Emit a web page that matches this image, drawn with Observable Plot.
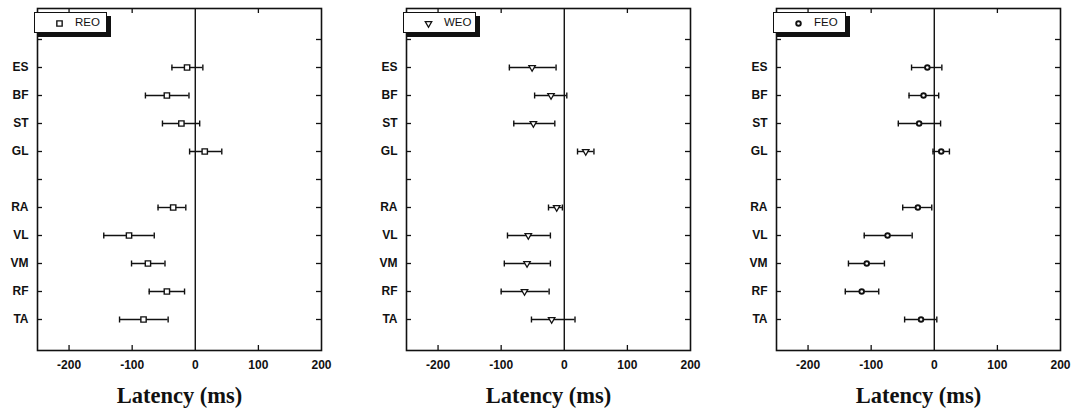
<!DOCTYPE html>
<html>
<head>
<meta charset="utf-8">
<script src="https://cdn.jsdelivr.net/npm/d3@7"></script>
<script src="https://cdn.jsdelivr.net/npm/@observablehq/plot@0.6"></script>
<style>
  body { margin: 0; background: #fff; width: 1079px; height: 416px; overflow: hidden; position: relative; }
  .panel { position: absolute; top: 0; }
  .legend { position: absolute; top: 12px; left: 34px; width: 71px; height: 19px; border: 1px solid #111; background: #fff;
            box-shadow: 4px 4px 0 #111; font-family: "Liberation Sans", Arial, sans-serif; font-size: 11.5px; color: #111; }
  .legend svg { position: absolute; left: 18px; top: 4px; }
  .legend span { position: absolute; left: 40px; top: 3px; }
</style>
</head>
<body>
<script>
// categories (slots include two unlabeled tick positions)
const slots = ["_a", "ES", "BF", "ST", "GL", "_b", "RA", "VL", "VM", "RF", "TA"];
const muscles = ["ES", "BF", "ST", "GL", "RA", "VL", "VM", "RF", "TA"];
const xTickLabels = [-200, -100, 0, 100, 200];
const xInnerTicks = [-200, -100, 100];
const xLabel = "Latency (ms)";

// REO
const reoMean = [-13, -45, -22, 15, -35, -105, -75, -45, -82];
const reoLow  = [-37, -79, -52, -9, -59, -145, -101, -73, -120];
const reoHigh = [12, -10, 7, 42, -15, -65, -48, -17, -43];
// WEO
const weoMean = [-51, -21, -49, 34, -12, -57, -59, -63, -20];
const weoLow  = [-87, -47, -80, 21, -25, -90, -95, -100, -52];
const weoHigh = [-13, 4, -15, 47, -3, -22, -22, -24, 17];
// FEO
const feoMean = [-11, -17, -24, 11, -26, -74, -107, -115, -21];
const feoLow  = [-36, -40, -57, -2, -50, -111, -136, -141, -47];
const feoHigh = [12, 7, 10, 24, -4, -35, -79, -88, 4];

const panels = [
  {name: "REO", mean: reoMean, low: reoLow, high: reoHigh, symbol: "square", rotate: 0, r: 3.0, sw: 1.4, left: 0},
  {name: "WEO", mean: weoMean, low: weoLow, high: weoHigh, symbol: "triangle", rotate: 180, r: 2.4, sw: 1.3, left: 369},
  {name: "FEO", mean: feoMean, low: feoLow, high: feoHigh, symbol: "circle", rotate: 0, r: 2.3, sw: 1.9, left: 739}
];

// vertical cap symbol for error bar ends
const capSymbol = {draw(context) { context.moveTo(0, -3); context.lineTo(0, 3); }};

const W = 340, ML = 37, MR = 19, H = 416, MT = 8, MB = 66;
const PW = W - ML - MR, PH = H - MT - MB;

for (const p of panels) {
  const data = muscles.map((m, i) => ({m, mean: p.mean[i], lo: p.low[i], hi: p.high[i]}));
  const chart = Plot.plot({
    width: W, height: H,
    marginLeft: ML, marginRight: MR, marginTop: MT, marginBottom: MB,
    x: {domain: [-250, 200]},
    y: {type: "point", domain: slots, padding: 1},
    style: {fontFamily: "'Liberation Sans', Arial, sans-serif", background: "transparent", color: "#111"},
    marks: [
      Plot.ruleX([0], {stroke: "#111", strokeWidth: 1.4}),
      Plot.ruleY(slots, {y: d => d, stroke: "#111", strokeWidth: 1.3, insetRight: PW - 5}),
      Plot.ruleY(slots, {y: d => d, stroke: "#111", strokeWidth: 1.3, insetLeft: PW - 5}),
      Plot.ruleX(xInnerTicks, {x: d => d, stroke: "#111", strokeWidth: 1.3, insetBottom: PH - 5}),
      Plot.ruleX(xInnerTicks, {x: d => d, stroke: "#111", strokeWidth: 1.3, insetTop: PH - 5}),
      Plot.axisX({ticks: xTickLabels, tickSize: 0, tickPadding: 10, fontWeight: "bold", fontSize: 12,
                  tickFormat: d => String(d), label: null}),
      Plot.axisY({ticks: muscles, tickSize: 0, tickPadding: 9, fontWeight: "bold", fontSize: 12, label: null}),
      Plot.ruleY(data, {y: "m", x1: "lo", x2: "hi", stroke: "#111", strokeWidth: 1.4}),
      Plot.dot(data, {x: "lo", y: "m", symbol: capSymbol, stroke: "#111", strokeWidth: 1.4, fill: "none"}),
      Plot.dot(data, {x: "hi", y: "m", symbol: capSymbol, stroke: "#111", strokeWidth: 1.4, fill: "none"}),
      Plot.dot(data, {x: "mean", y: "m", symbol: p.symbol, rotate: p.rotate, r: p.r, stroke: "#111",
                      strokeWidth: p.sw, fill: "#fff"}),
      Plot.frame({stroke: "#111", strokeWidth: 1.6}),
      Plot.text([xLabel], {frameAnchor: "bottom", dy: 52, text: d => d, fontFamily: "'Liberation Serif', 'Times New Roman', serif",
                           fontWeight: "bold", fontSize: 22.5, fill: "#111"})
    ]
  });
  const div = document.createElement("div");
  div.className = "panel";
  div.style.left = p.left + "px";
  div.appendChild(chart);

  // legend
  const lg = document.createElement("div");
  lg.className = "legend";
  const sym = Plot.plot({
    width: 12, height: 12, margin: 0,
    x: {domain: [0, 1], axis: null}, y: {domain: [0, 1], axis: null},
    style: {background: "transparent"},
    marks: [Plot.dot([0.5], {x: 0.5, y: 0.5, symbol: p.symbol, rotate: p.rotate, r: p.r, stroke: "#111", strokeWidth: p.sw, fill: "#fff"})]
  });
  lg.appendChild(sym);
  const sp = document.createElement("span");
  sp.textContent = p.name;
  lg.appendChild(sp);
  div.appendChild(lg);
  document.body.appendChild(div);
}
</script>
</body>
</html>
